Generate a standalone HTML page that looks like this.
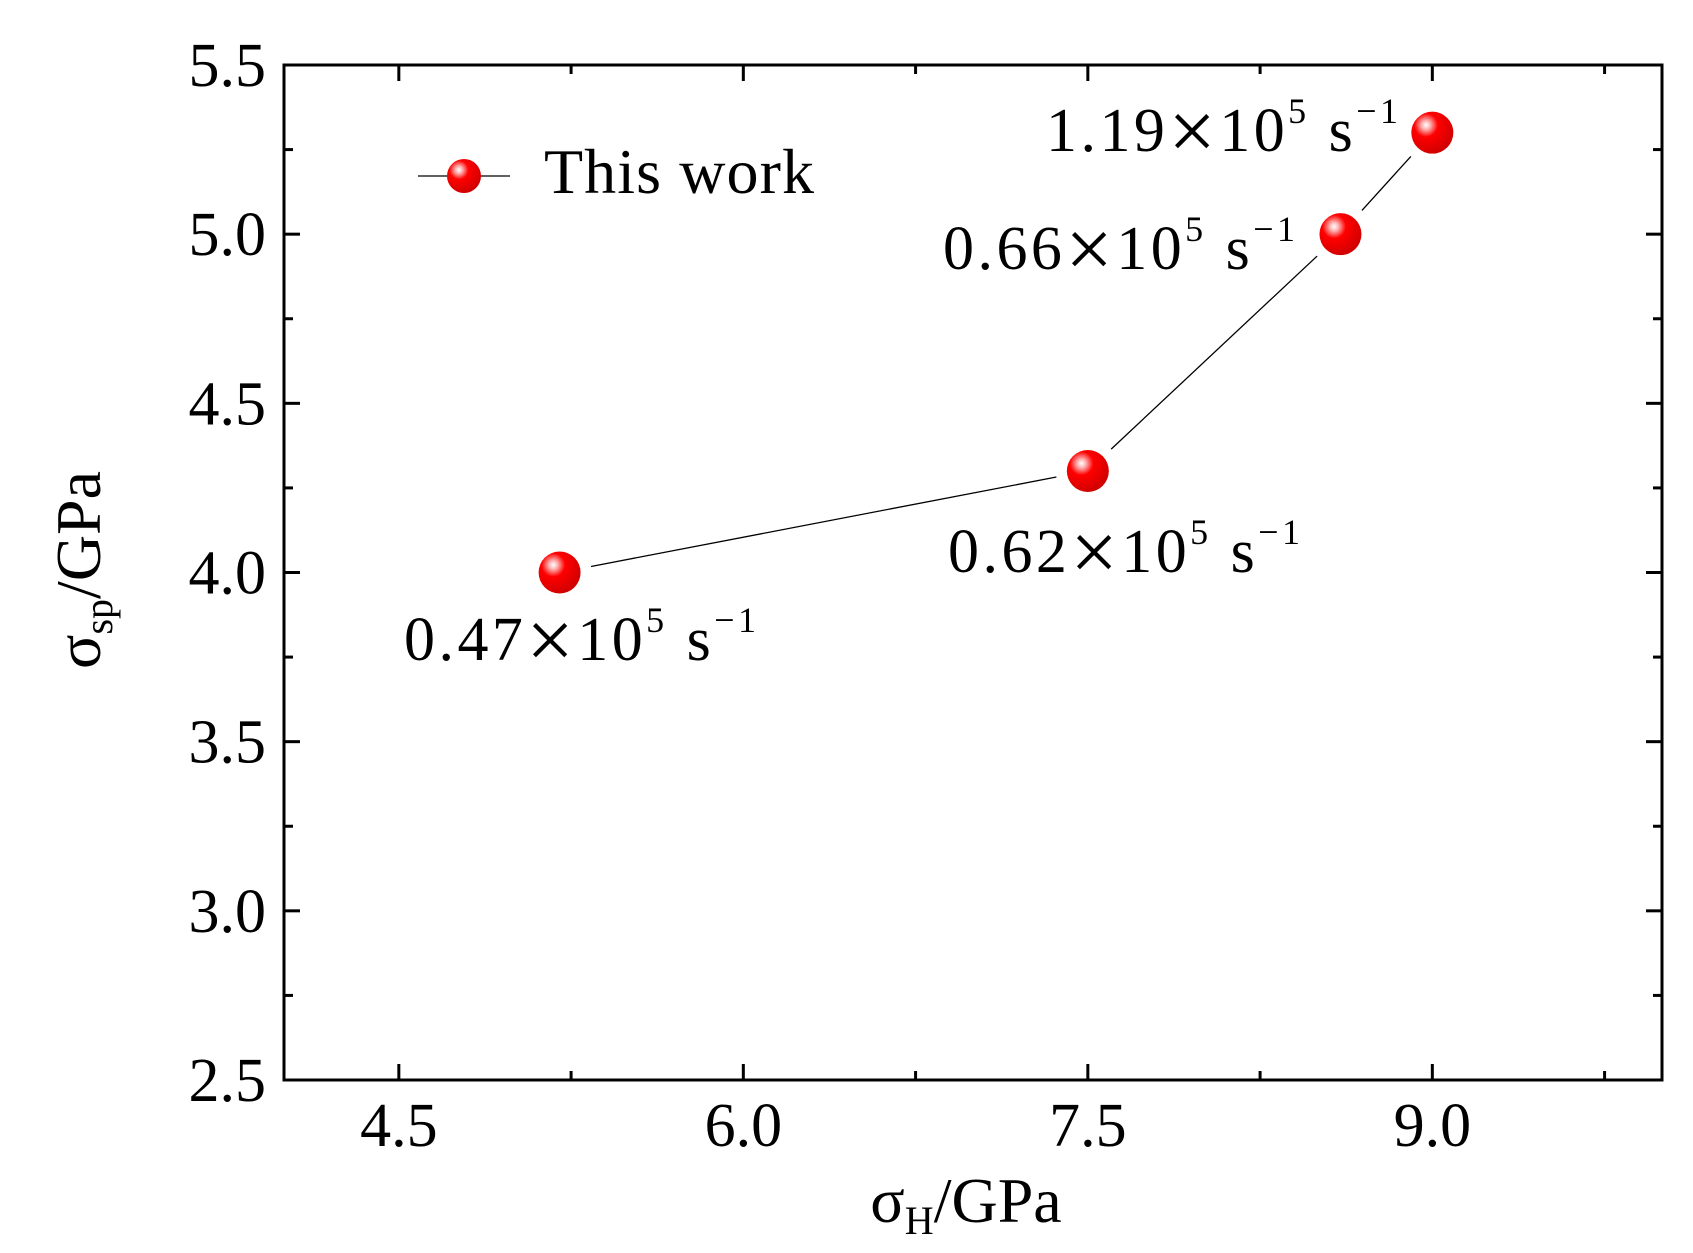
<!DOCTYPE html>
<html><head><meta charset="utf-8"><style>
html,body{margin:0;padding:0;background:#fff}
svg{display:block}
text{font-family:"Liberation Serif",serif;fill:#000}
</style></head><body>
<svg id="chart" width="1693" height="1253" viewBox="0 0 1693 1253" xmlns="http://www.w3.org/2000/svg">
<defs>
<radialGradient id="ball" cx="0.35" cy="0.32" r="0.7">
<stop offset="0" stop-color="#fff"/>
<stop offset="0.15" stop-color="#ffb0b0"/>
<stop offset="0.4" stop-color="#f00"/>
<stop offset="1" stop-color="#d00000"/>
</radialGradient>
</defs>
<g id="plot"></g>
</svg>
<script>
const xVals=[5.2,7.5,8.6,9.0];
const yVals=[4.0,4.3,5.0,5.3];
const pointLabels=["0.47","0.62","0.66","1.19"];
const xTicks=[4.5,6.0,7.5,9.0];
const xTickLabels=["4.5","6.0","7.5","9.0"];
const yTicks=[2.5,3.0,3.5,4.0,4.5,5.0,5.5];
const yTickLabels=["2.5","3.0","3.5","4.0","4.5","5.0","5.5"];
const xMin=4.0,xMax=10.0,yMin=2.5,yMax=5.5;
const L=284,R=1662,T=65,B=1080;
const sx=v=>L+(v-xMin)/(xMax-xMin)*(R-L);
const sy=v=>B-(v-yMin)/(yMax-yMin)*(B-T);
const NS="http://www.w3.org/2000/svg";
const g=document.getElementById('plot');
function mk(tag,attrs,parent){const e=document.createElementNS(NS,tag);for(const k in attrs)e.setAttribute(k,attrs[k]);(parent||g).appendChild(e);return e;}
for(let v=4.5;v<xMax-0.01;v+=0.75){
  const x=sx(v),maj=Math.abs((v-4.5)/1.5-Math.round((v-4.5)/1.5))<1e-6,len=maj?16:9;
  let t=mk('line',{x1:x,y1:B,x2:x,y2:B-len,stroke:'#000','stroke-width':3});
  
  
  t=mk('line',{x1:x,y1:T,x2:x,y2:T+len,stroke:'#000','stroke-width':3});
  
  
}
for(let v=yMin+0.25;v<yMax-0.01;v+=0.25){
  const y=sy(v),maj=Math.abs(v*2-Math.round(v*2))<1e-6,len=maj?16:9;
  let t=mk('line',{x1:L,y1:y,x2:L+len,y2:y,stroke:'#000','stroke-width':3});
  
  
  t=mk('line',{x1:R,y1:y,x2:R-len,y2:y,stroke:'#000','stroke-width':3});
  
  
}
const frame=mk('rect',{x:L,y:T,width:R-L,height:B-T,fill:'none',stroke:'#000','stroke-width':3});


xTicks.forEach((v,i)=>{const t=mk('text',{x:sx(v),y:1146,'font-size':62,'text-anchor':'middle'});t.textContent=xTickLabels[i];

});
yTicks.forEach((v,i)=>{const t=mk('text',{x:266,y:sy(v)+21,'font-size':62,'text-anchor':'end'});t.textContent=yTickLabels[i];

});
for(let i=0;i<xVals.length-1;i++){
  const x1=sx(xVals[i]),y1=sy(yVals[i]),x2=sx(xVals[i+1]),y2=sy(yVals[i+1]);
  const d=Math.hypot(x2-x1,y2-y1),ux=(x2-x1)/d,uy=(y2-y1)/d,gap=32;
  const s=mk('line',{x1:x1+ux*gap,y1:y1+uy*gap,x2:x2-ux*gap,y2:y2-uy*gap,stroke:'#000','stroke-width':1.3});
  
  
}
xVals.forEach((v,i)=>{const c=mk('circle',{cx:sx(v),cy:sy(yVals[i]),r:21,fill:'url(#ball)'});

});
const lblPos=[[404,660],[948,572],[943,269],[1046,151]];
pointLabels.forEach((s,i)=>{const t=mk('text',{x:lblPos[i][0],y:lblPos[i][1],'font-size':62,'textLength':352,'lengthAdjust':'spacing'});
t.innerHTML=s+'<tspan font-size="84" dy="8">\u00d7</tspan><tspan dy="-8">10</tspan><tspan font-size="36" dy="-28">5</tspan><tspan dy="28"> s</tspan><tspan font-size="36" dy="-28">\u22121</tspan>';

});
const ll=mk('line',{x1:418,y1:176,x2:510,y2:176,stroke:'#000','stroke-width':1.3});


const lc=mk('circle',{cx:464,cy:176,r:17,fill:'url(#ball)'});


const lt=mk('text',{x:544,y:193,'font-size':64,'textLength':270,'lengthAdjust':'spacing'});lt.textContent='This work';


const xt=mk('text',{x:966,y:1222,'font-size':64,'text-anchor':'middle'});
xt.innerHTML='\u03c3<tspan font-size="40" dy="12">H</tspan><tspan dy="-12">/GPa</tspan>';


const yt=mk('text',{x:0,y:0,'font-size':64,'text-anchor':'middle',transform:'translate(100,570) rotate(-90)'});
yt.innerHTML='\u03c3<tspan font-size="40" dy="12">sp</tspan><tspan dy="-12">/GPa</tspan>';


</script>
</body></html>
